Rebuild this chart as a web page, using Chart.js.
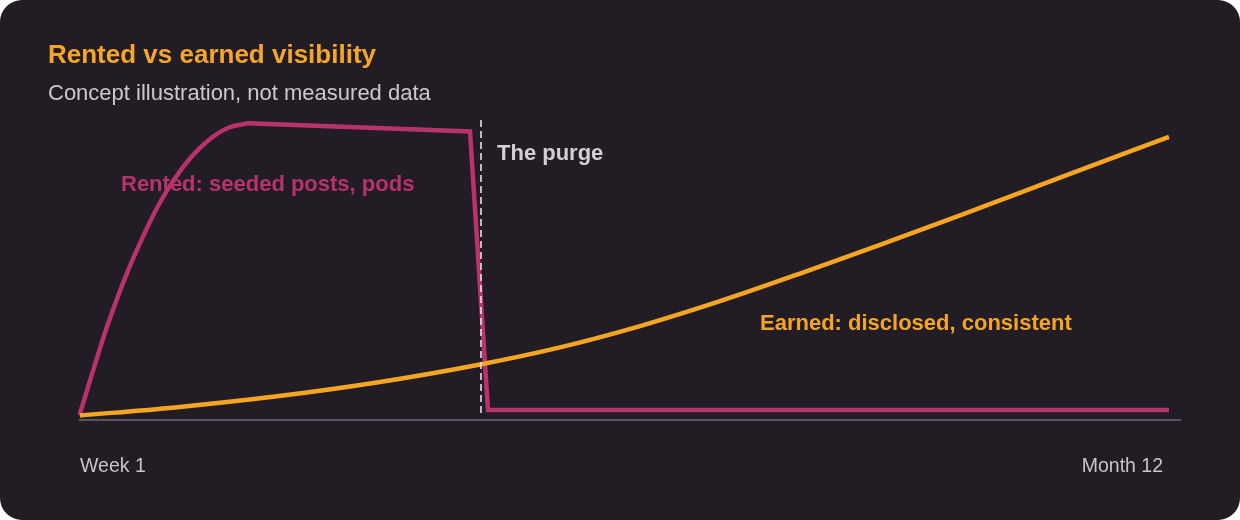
<!DOCTYPE html>
<html>
<head>
<meta charset="utf-8">
<script src="https://cdn.jsdelivr.net/npm/chart.js@4.4.1/dist/chart.umd.min.js"></script>
<style>
  html, body { margin: 0; padding: 0; background: #ffffff; }
  #card { width: 1240px; height: 520px; border-radius: 22px; background: #221c24; overflow: hidden; position: relative; }
  canvas { display: block; }
</style>
</head>
<body>
<div id="card"><canvas id="c" width="1240" height="520"></canvas></div>
<script>
// ---- data (concept illustration) ----
// Rented: fast smooth rise to a peak ...
const rentedRiseX = [0, 1.17, 2, 2.83, 4.5, 6.17, 7.83, 9.5, 11.17, 12.83, 14.83, 16.83];
const rentedRiseY = [2.2, 15, 23.9, 32.3, 47.3, 60.2, 71.5, 80.6, 87.8, 93.2, 97.4, 98.9];
// ... then a slight sag, the purge collapse and a flat floor
const rentedFallX = [16.83, 39, 40.8, 108.9];
const rentedFallY = [98.9, 96.2, 3.3, 3.3];
// Earned: slow, accelerating, steady growth
const earnedX = [0, 9.5, 19.5, 29.5, 40, 48, 56, 64, 72, 80, 88, 98.4, 108.9];
const earnedY = [1.5, 4.2, 7.8, 12.4, 18.5, 24.2, 31.3, 39.6, 48.8, 58.4, 68.2, 81.3, 94.4];
const tickPositions = [0, 108.3];
const tickLabels = ['Week 1', 'Month 12'];
const purgeX = 40.1;
const titleText = 'Rented vs earned visibility';
const subtitleText = 'Concept illustration, not measured data';
const seriesLabels = ['Rented: seeded posts, pods', 'Earned: disclosed, consistent'];
const purgeLabel = 'The purge';

const FONT = '"Liberation Sans", Arial, Helvetica, sans-serif';
const C_RENTED = '#b8336a';
const C_EARNED = '#f5a524';

const toPts = (xs, ys) => xs.map((x, i) => ({ x: x, y: ys[i] }));

// annotation anchors (data coordinates)
const textNotes = [
  { text: seriesLabels[0], x: 4.1, y: 76.4, color: C_RENTED },
  { text: purgeLabel, x: 41.7, y: 86.7, color: '#d4ced6' },
  { text: seriesLabels[1], x: 68, y: 30, color: C_EARNED }
];

const decorPlugin = {
  id: 'decor',
  afterDatasetsDraw(chart) {
    const ctx = chart.ctx;
    const xs = chart.scales.x, ys = chart.scales.y;
    ctx.save();
    // purge dashed line
    ctx.strokeStyle = '#e6e0e8';
    ctx.lineWidth = 1.6;
    ctx.setLineDash([7, 4]);
    const px = xs.getPixelForValue(purgeX);
    ctx.beginPath();
    ctx.moveTo(px, ys.getPixelForValue(100));
    ctx.lineTo(px, ys.getPixelForValue(1.7));
    ctx.stroke();
    ctx.setLineDash([]);
    // notes
    ctx.font = 'bold 22px ' + FONT;
    ctx.textAlign = 'left';
    ctx.textBaseline = 'alphabetic';
    textNotes.forEach(n => {
      ctx.fillStyle = n.color;
      ctx.fillText(n.text, xs.getPixelForValue(n.x), ys.getPixelForValue(n.y));
    });
    // title & subtitle
    ctx.fillStyle = '#f5a62a';
    ctx.font = 'bold 26px ' + FONT;
    ctx.fillText(titleText, 48, 63);
    ctx.fillStyle = '#cdc7cf';
    ctx.font = '22px ' + FONT;
    ctx.fillText(subtitleText, 48, 100);
    ctx.restore();
  }
};

new Chart(document.getElementById('c'), {
  type: 'line',
  data: {
    datasets: [
      {
        label: seriesLabels[1],
        data: toPts(earnedX, earnedY),
        borderColor: C_EARNED,
        borderWidth: 4.5,
        pointRadius: 0,
        cubicInterpolationMode: 'monotone',
        fill: false,
        clip: false,
        order: 0
      },
      {
        label: seriesLabels[0],
        data: toPts(rentedRiseX, rentedRiseY),
        borderColor: C_RENTED,
        borderWidth: 4.5,
        pointRadius: 0,
        cubicInterpolationMode: 'monotone',
        fill: false,
        clip: false,
        borderCapStyle: 'round',
        order: 1
      },
      {
        label: seriesLabels[0] + ' (after peak)',
        data: toPts(rentedFallX, rentedFallY),
        borderColor: C_RENTED,
        borderWidth: 4.5,
        pointRadius: 0,
        tension: 0,
        fill: false,
        clip: false,
        borderJoinStyle: 'miter',
        order: 1
      }
    ]
  },
  options: {
    responsive: false,
    animation: false,
    events: [],
    layout: { padding: { left: 80, right: 60, top: 120, bottom: 0 } },
    plugins: {
      legend: { display: false },
      tooltip: { enabled: false },
      title: { display: false }
    },
    scales: {
      x: {
        type: 'linear',
        min: 0,
        max: 110,
        grid: { display: false, drawTicks: false },
        border: { display: true, color: '#5c545e', width: 2 },
        afterBuildTicks(scale) { scale.ticks = tickPositions.map(v => ({ value: v })); },
        afterFit(scale) { scale.height = 100; },
        ticks: {
          align: 'inner',
          padding: 35,
          maxRotation: 0,
          autoSkip: false,
          color: '#c9c3cb',
          font: { family: FONT, size: 19.5 },
          callback(value) {
            const i = tickPositions.indexOf(value);
            return i >= 0 ? tickLabels[i] : '';
          }
        }
      },
      y: {
        display: false,
        min: 0,
        max: 100
      }
    }
  },
  plugins: [decorPlugin]
});
</script>
</body>
</html>
